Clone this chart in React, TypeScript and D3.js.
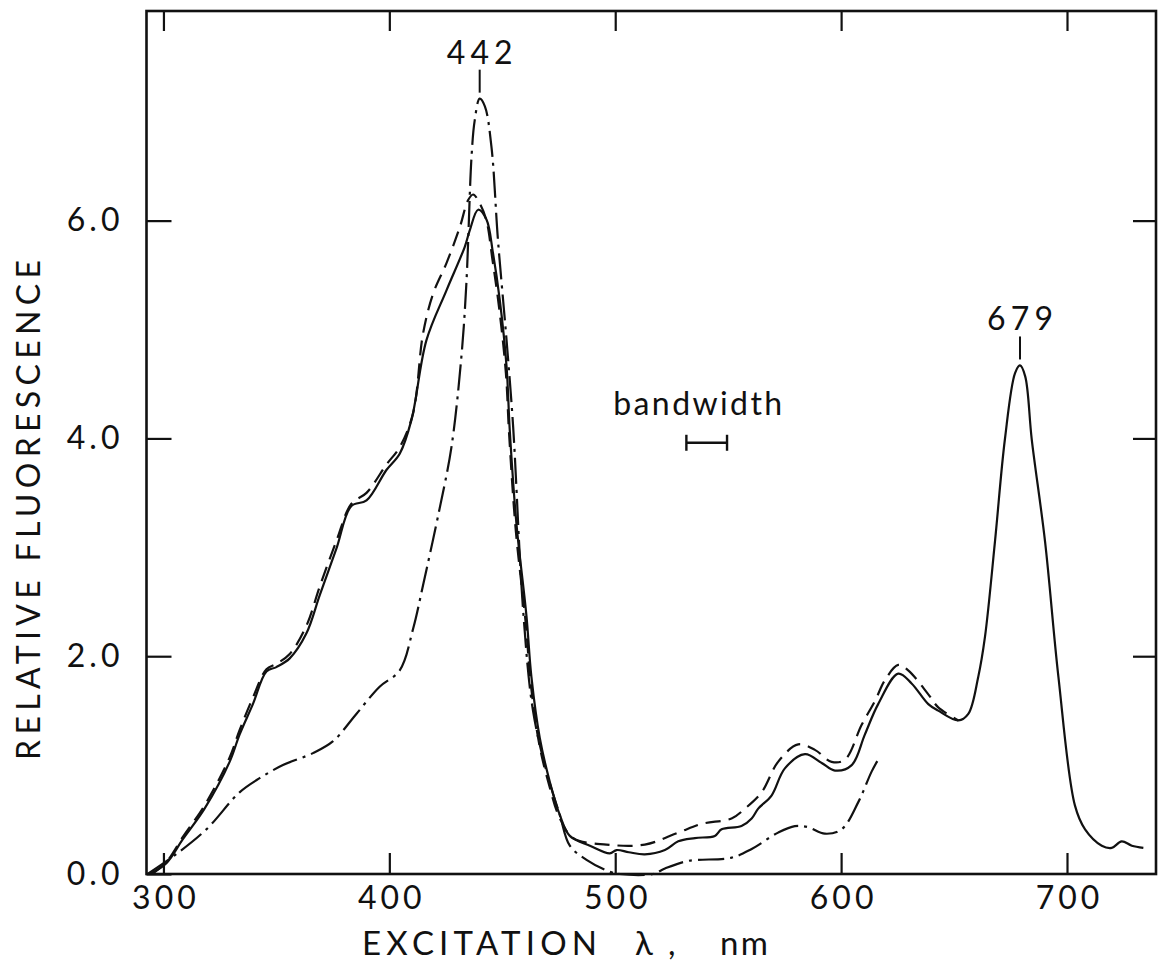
import { useEffect, useRef } from "react";
import * as d3 from "d3";

// wavelength (nm) / relative fluorescence
const solidCurve: [number, number][] = [
  [294, 0], [301.3, 0.1], [308.6, 0.32], [318.2, 0.6], [329.3, 1.03], [333.7, 1.28],
  [339.6, 1.56], [345.6, 1.86], [350, 1.9], [355.9, 1.98], [363.3, 2.21], [369.2, 2.56],
  [376.6, 2.99], [383.2, 3.38], [389.9, 3.43], [398.7, 3.71], [404.6, 3.86], [409.8, 4.17],
  [416.4, 4.9], [425.3, 5.36], [433.4, 5.76], [435.6, 5.91], [439.3, 6.1], [443, 6.01],
  [445.9, 5.7], [448.9, 5.27], [451.9, 4.66], [453.3, 4.08], [456.3, 3.21], [460.7, 2.37],
  [462.9, 1.81], [466.6, 1.25], [471, 0.85], [475.5, 0.54], [479.9, 0.35], [488.8, 0.26],
  [497.6, 0.19], [500.6, 0.22], [506, 0.2], [513.1, 0.18], [522, 0.22], [527.9, 0.3],
  [535.3, 0.33], [544.1, 0.35], [547.1, 0.41], [555.9, 0.44], [560.4, 0.51], [563.3, 0.6],
  [569.2, 0.72], [575.1, 0.97], [584, 1.1], [591.4, 1.02], [597.3, 0.95], [604.7, 1.0],
  [610.5, 1.28], [616.4, 1.56], [625.3, 1.84], [631.2, 1.75], [638.6, 1.56], [643, 1.5],
  [651.9, 1.41], [656.3, 1.47], [660.7, 1.81], [663.7, 2.18], [668.1, 3.05], [672.5, 3.99],
  [677, 4.6], [679.2, 4.67], [681.5, 4.57], [684.4, 3.99], [690.3, 3.05], [696.2, 1.81],
  [703.5, 0.63], [708, 0.41], [715.4, 0.26], [719.8, 0.24], [724.2, 0.3], [728.7, 0.26],
  [733.8, 0.24],
];

const dashedCurve: [number, number][] = [
  [295, 0], [301.3, 0.11], [308.6, 0.34], [318.2, 0.63], [329.3, 1.07], [333.7, 1.32],
  [339.6, 1.62], [345.6, 1.88], [350, 1.93], [355.9, 2.02], [363.3, 2.28], [369.2, 2.64],
  [376.6, 3.06], [383.2, 3.4], [389.9, 3.5], [398.7, 3.76], [404.6, 3.92], [410.5, 4.23],
  [414.9, 4.96], [419.4, 5.33], [425.3, 5.61], [431.2, 5.94], [434.9, 6.19], [437.1, 6.24],
  [440, 6.16], [443, 6.0], [445.6, 5.65], [448.6, 5.2], [451.6, 4.6], [453, 4.05],
  [456, 3.15], [460.4, 2.3], [462.6, 1.75], [466.3, 1.2], [470.7, 0.82], [475.3, 0.52],
  [481.4, 0.33], [496.1, 0.27], [513.1, 0.27], [527.9, 0.38], [538.2, 0.46], [551.5, 0.51],
  [557.4, 0.6], [564.8, 0.75], [572.1, 1.03], [581, 1.19], [588.4, 1.14], [595.8, 1.03],
  [601.7, 1.05], [609.1, 1.37], [615, 1.59], [619.4, 1.78], [625.3, 1.92], [629.7, 1.87],
  [638.6, 1.65], [643, 1.53], [651.9, 1.41],
];

const dashDotCurve: [number, number][] = [
  [293, 0], [304.2, 0.16], [319, 0.41], [333.7, 0.75], [342.6, 0.88], [352.9, 1.0],
  [366.2, 1.11], [375.1, 1.22], [385.4, 1.47], [395.7, 1.72], [404.6, 1.87], [410.5, 2.25],
  [414.9, 2.65], [422.3, 3.36], [427.5, 3.92], [431.9, 4.75], [434.1, 5.42], [436.4, 6.59],
  [437.8, 6.92], [440, 7.12], [442.3, 7.05], [445.2, 6.68], [448.1, 5.82], [451.9, 4.9],
  [454.8, 4.11], [459.2, 2.43], [463.6, 1.5], [469.6, 0.94], [475.5, 0.54], [479.9, 0.26],
  [487.3, 0.13], [497.6, 0.02], [502, 0], [516.7, 0], [522, 0.05], [532.3, 0.12],
  [551.5, 0.15], [560.4, 0.23], [572.1, 0.38], [579.5, 0.44], [585.4, 0.43], [592.8, 0.37],
  [600.2, 0.41], [607.6, 0.66], [613.5, 0.94], [617.2, 1.08],
];

const wavelengthTicks = [300, 400, 500, 600, 700];
const fluorTicks = [0, 2, 4, 6];
const peakLabels = ["442", "679"];
const bandwidth = { from: 531.5, to: 549.5, level: 3.96 };

const FONT = "Lato, 'DejaVu Sans', sans-serif";

export default function App() {
  const ref = useRef<SVGSVGElement>(null);

  useEffect(() => {
    if (!ref.current) return;
    const svg = d3.select(ref.current);
    svg.selectAll("*").remove();

    const width = 1158;
    const height = 970;
    const left = 146.5;
    const right = 1156;
    const top = 11;
    const bottom = 874;

    const x = d3.scaleLinear().domain([292.5, 739.4]).range([left, right]);
    const y = d3.scaleLinear().domain([0, 7.925]).range([bottom, top]);

    svg.append("rect").attr("width", width).attr("height", height).attr("fill", "#fff");

    // axes (ticks point inward)
    const styleAxis = (g: d3.Selection<SVGGElement, unknown, null, undefined>) => {
      g.select(".domain").remove();
      g.selectAll(".tick line").attr("stroke", "#111").attr("stroke-width", 2.2);
      g.selectAll(".tick text")
        .attr("fill", "#111")
        .attr("font-family", FONT)
        .attr("font-size", "32px")
        .attr("letter-spacing", "4px");
    };

    svg
      .append("g")
      .attr("transform", `translate(0,${bottom})`)
      .call(d3.axisBottom(x).tickValues(wavelengthTicks).tickSize(-21).tickPadding(12))
      .call(styleAxis)
      .call((g) => g.selectAll(".tick text").attr("dx", "2px"));
    svg
      .append("g")
      .attr("transform", `translate(0,${top})`)
      .call(d3.axisTop(x).tickValues(wavelengthTicks).tickSize(-20).tickFormat(() => ""))
      .call(styleAxis);
    svg
      .append("g")
      .attr("transform", `translate(${left},0)`)
      .call(
        d3
          .axisLeft(y)
          .tickValues(fluorTicks)
          .tickSize(-25)
          .tickPadding(23)
          .tickFormat((d) => d3.format(".1f")(d as number))
      )
      .call(styleAxis);
    svg
      .append("g")
      .attr("transform", `translate(${right},0)`)
      .call(d3.axisRight(y).tickValues(fluorTicks.slice(1)).tickSize(-23).tickFormat(() => ""))
      .call(styleAxis);

    // frame
    svg
      .append("rect")
      .attr("x", left)
      .attr("y", top)
      .attr("width", right - left)
      .attr("height", bottom - top)
      .attr("fill", "none")
      .attr("stroke", "#111")
      .attr("stroke-width", 2.6);

    // curves
    const line = d3
      .line<[number, number]>()
      .x((d) => x(d[0]))
      .y((d) => y(d[1]))
      .curve(d3.curveCatmullRom.alpha(0.5));

    const curves = [
      { data: solidCurve, dash: null },
      { data: dashedCurve, dash: "15,8" },
      { data: dashDotCurve, dash: "26,6,3,6" },
    ];
    svg
      .selectAll(".curve")
      .data(curves)
      .join("path")
      .attr("class", "curve")
      .attr("d", (d) => line(d.data))
      .attr("fill", "none")
      .attr("stroke", "#111")
      .attr("stroke-width", 2.2)
      .attr("stroke-linejoin", "round")
      .attr("stroke-dasharray", (d) => d.dash);

    // peak annotations
    const peaks = [
      d3.greatest(dashDotCurve, (d) => d[1])!,
      d3.greatest(solidCurve.filter((d) => d[0] > 600), (d) => d[1])!,
    ];
    peaks.forEach((p, i) => {
      const px = x(p[0]);
      const py = y(p[1]);
      svg
        .append("line")
        .attr("x1", px)
        .attr("x2", px)
        .attr("y1", py - 6)
        .attr("y2", py - 29)
        .attr("stroke", "#111")
        .attr("stroke-width", 2);
      svg
        .append("text")
        .attr("x", px)
        .attr("y", py - 35)
        .attr("text-anchor", "middle")
        .attr("font-family", FONT)
        .attr("font-size", "32px")
        .attr("fill", "#111")
        .attr("textLength", 66)
        .attr("lengthAdjust", "spacing")
        .text(peakLabels[i]);
    });

    // bandwidth marker
    const bx0 = x(bandwidth.from);
    const bx1 = x(bandwidth.to);
    const by = y(bandwidth.level);
    const bw = svg.append("g").attr("stroke", "#111").attr("stroke-width", 2.4);
    bw.append("line").attr("x1", bx0).attr("x2", bx1).attr("y1", by).attr("y2", by);
    bw.append("line").attr("x1", bx0).attr("x2", bx0).attr("y1", by - 8).attr("y2", by + 8);
    bw.append("line").attr("x1", bx1).attr("x2", bx1).attr("y1", by - 8).attr("y2", by + 8);
    svg
      .append("text")
      .attr("x", (bx0 + bx1) / 2 - 9)
      .attr("y", by - 28)
      .attr("text-anchor", "middle")
      .attr("font-family", FONT)
      .attr("font-size", "32px")
      .attr("fill", "#111")
      .attr("textLength", 169)
      .attr("lengthAdjust", "spacing")
      .text("bandwidth");

    // axis titles
    const xt = svg
      .append("text")
      .attr("y", 955)
      .attr("font-family", FONT)
      .attr("font-size", "33px")
      .attr("fill", "#111");
    xt.append("tspan").attr("x", 362).attr("textLength", 235).attr("lengthAdjust", "spacing").text("EXCITATION");
    xt.append("tspan").attr("x", 635).text("λ");
    xt.append("tspan").attr("x", 668).text(",");
    xt.append("tspan").attr("x", 720).attr("textLength", 48).attr("lengthAdjust", "spacing").text("nm");

    svg
      .append("text")
      .attr("transform", `translate(40,510) rotate(-90)`)
      .attr("text-anchor", "middle")
      .attr("font-family", FONT)
      .attr("font-size", "32px")
      .attr("fill", "#111")
      .attr("textLength", 500)
      .attr("lengthAdjust", "spacing")
      .text("RELATIVE FLUORESCENCE");
  }, []);

  return (
    <div style={{ position: "absolute", left: 0, top: 0 }}>
      <svg ref={ref} width={1158} height={970} style={{ display: "block" }} />
    </div>
  );
}
